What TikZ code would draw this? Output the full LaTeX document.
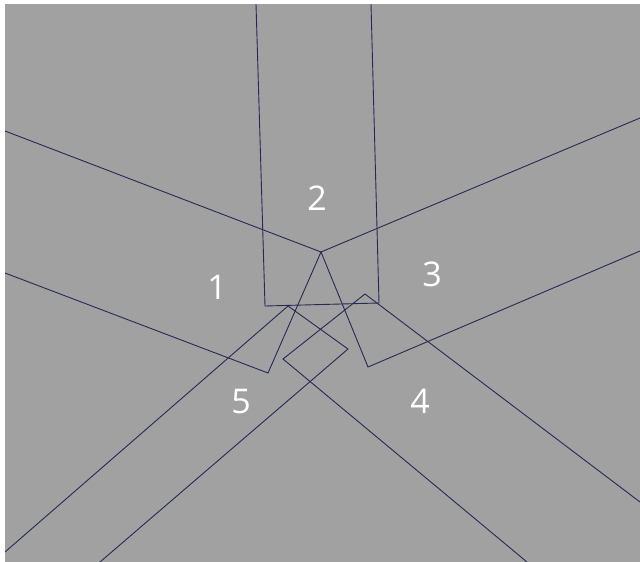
\documentclass[tikz,border=0pt]{standalone}
\usepackage{fontspec}
\setmainfont{Open Sans}
\definecolor{bg}{RGB}{161,161,161}
\definecolor{edge}{RGB}{40,40,85}
\tikzset{
  bar/.style={draw=edge, line width=0.9pt, line join=miter},
  lbl/.style={text=white, inner sep=0pt, font=\fontsize{34}{34}\selectfont}
}
\begin{document}
\begin{tikzpicture}[x=1pt,y=-1pt]
\useasboundingbox (0,0) rectangle (640,562);
\fill[white] (0,0) rectangle (640,562);
\fill[bg] (5,4) rectangle (640,562);
\begin{scope}
\clip (5,4) rectangle (640,562);
% bar 2 (up)
\coordinate (a2) at (256,4);
\coordinate (b2) at (265,306);
\coordinate (c2) at (379,303);
\coordinate (d2) at (371,4);
\draw[bar] (a2) -- (b2) -- (c2) -- (d2);
% bar 1 (left)
\coordinate (a1) at (5,131);
\coordinate (apex) at (321,252);
\coordinate (c1) at (268,373);
\coordinate (d1) at (5,273);
\draw[bar] (a1) -- (apex) -- (c1) -- (d1);
% bar 3 (right)
\coordinate (a3) at (640,118);
\coordinate (c3) at (368,367);
\coordinate (d3) at (640,251);
\draw[bar] (a3) -- (apex) -- (c3) -- (d3);
% bar 5 (down-left)
\coordinate (a5) at (5,552);
\coordinate (b5) at (288,306);
\coordinate (c5) at (348,349);
\coordinate (d5) at (100,562);
\draw[bar] (a5) -- (b5) -- (c5) -- (d5);
% bar 4 (down-right)
\coordinate (a4) at (640,502);
\coordinate (b4) at (365,294);
\coordinate (c4) at (283,359);
\coordinate (d4) at (527,562);
\draw[bar] (a4) -- (b4) -- (c4) -- (d4);
\end{scope}
\node[lbl] (n1) at (217,287) {1};
\node[lbl] (n2) at (317,198) {2};
\node[lbl] (n3) at (432,274) {3};
\node[lbl] (n4) at (420,401) {4};
\node[lbl] (n5) at (241,402) {5};
\end{tikzpicture}
\end{document}
